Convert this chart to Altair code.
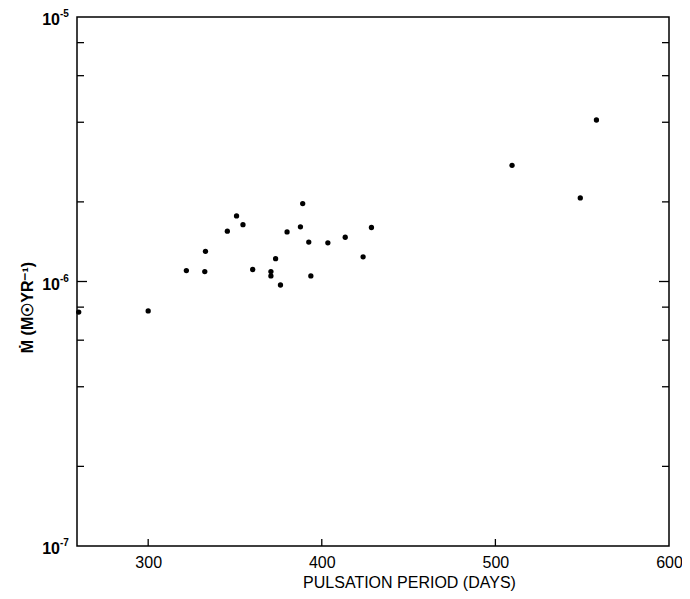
import altair as alt
import pandas as pd

# Data
period = [260, 300, 322, 332.6, 333, 345.6, 350.9, 354.6, 360.2, 370.7, 370.7,
          373.4, 376.2, 380, 387.7, 389, 392.5, 393.7, 403.5, 413.5, 423.8,
          428.6, 509.6, 548.9, 558.2]
mdot = [7.66e-7, 7.74e-7, 1.10e-6, 1.09e-6, 1.30e-6, 1.55e-6, 1.77e-6, 1.64e-6,
        1.11e-6, 1.09e-6, 1.05e-6, 1.22e-6, 9.7e-7, 1.54e-6, 1.61e-6, 1.97e-6,
        1.41e-6, 1.05e-6, 1.40e-6, 1.47e-6, 1.24e-6, 1.60e-6, 2.75e-6, 2.07e-6,
        4.08e-6]

x_tick_vals = [300, 400, 500]
x_label_vals = [300, 400, 500, 600]
y_minor_ticks = [2e-7, 4e-7, 6e-7, 8e-7, 2e-6, 4e-6, 6e-6, 8e-6]
y_major_ticks = [1e-6]
y_label_vals = [1e-7, 1e-6, 1e-5]
y_label_exp = ["-7", "-6", "-5"]

W, H = 592, 529
FONT = "Liberation Sans"
XT = "PULSATION PERIOD (DAYS)"
YT = "Ṁ  (M☉YR⁻¹)"

df = pd.DataFrame({"period": period, "mdot": mdot})
xs = alt.Scale(domain=[259, 600], nice=False, zero=False)
ys = alt.Scale(type="log", domain=[1e-7, 1e-5], nice=False)

x_axis = alt.Axis(values=x_label_vals, ticks=False, domain=False, grid=False,
                  labelFont=FONT, labelFontSize=16, labelColor="black",
                  labelPadding=8, labelFlush=False,
                  title=XT, titleFont=FONT,
                  titleFontSize=16, titleFontWeight="normal", titleColor="black",
                  titleX=332, titleY=36, titleBaseline="middle", titleAlign="center")
y_axis = alt.Axis(values=y_label_vals, labels=False, ticks=False, domain=False,
                  grid=False, title=YT, titleFont=FONT,
                  titleFontSize=16, titleFontWeight="bold", titleColor="black",
                  titleAngle=270, titleX=-50, titleY=290,
                  titleAlign="center", titleBaseline="middle")

points = alt.Chart(df).mark_circle(color="black", opacity=1, size=28).encode(
    x=alt.X("period:Q", scale=xs, axis=x_axis, title=XT),
    y=alt.Y("mdot:Q", scale=ys, axis=y_axis, title=YT),
)

ymin_df = pd.DataFrame({"v": y_minor_ticks})
ymaj_df = pd.DataFrame({"v": y_major_ticks})
xt_df = pd.DataFrame({"p": x_tick_vals})
lab_df = pd.DataFrame({"v": y_label_vals, "e": y_label_exp})

rule_kw = dict(color="black", strokeWidth=1.3)
left_minor = alt.Chart(ymin_df).mark_rule(**rule_kw).encode(
    y=alt.Y("v:Q", scale=ys, title=YT), x=alt.value(0), x2=alt.value(7))
right_minor = alt.Chart(ymin_df).mark_rule(**rule_kw).encode(
    y=alt.Y("v:Q", scale=ys, title=YT), x=alt.value(W), x2=alt.value(W - 7))
left_major = alt.Chart(ymaj_df).mark_rule(**rule_kw).encode(
    y=alt.Y("v:Q", scale=ys, title=YT), x=alt.value(0), x2=alt.value(10))
right_major = alt.Chart(ymaj_df).mark_rule(**rule_kw).encode(
    y=alt.Y("v:Q", scale=ys, title=YT), x=alt.value(W), x2=alt.value(W - 10))
x_ticks = alt.Chart(xt_df).mark_rule(**rule_kw).encode(
    x=alt.X("p:Q", scale=xs, title=XT),
    y=alt.value(H), y2=alt.value(H - 7))

base_lab = alt.Chart(lab_df).mark_text(
    font=FONT, fontSize=16, fontWeight="bold", align="right", baseline="middle",
    dy=3, color="black").encode(
    y=alt.Y("v:Q", scale=ys, title=YT), x=alt.value(-17), text=alt.value("10"))
exp_lab = alt.Chart(lab_df).mark_text(
    font=FONT, fontSize=10, fontWeight="bold", align="left", baseline="middle",
    dy=-3, color="black").encode(
    y=alt.Y("v:Q", scale=ys, title=YT), x=alt.value(-17), text="e:N")

chart = alt.layer(points, left_minor, right_minor, left_major, right_major,
                  x_ticks, base_lab, exp_lab).properties(
    width=W, height=H,
    autosize=alt.AutoSizeParams(type="none"),
    padding={"left": 69, "top": 9, "right": 13, "bottom": 45},
    background="white",
).configure_view(stroke="black", strokeWidth=1.5)

chart.save("out.html", embed_options={"renderer": "svg", "actions": False})
